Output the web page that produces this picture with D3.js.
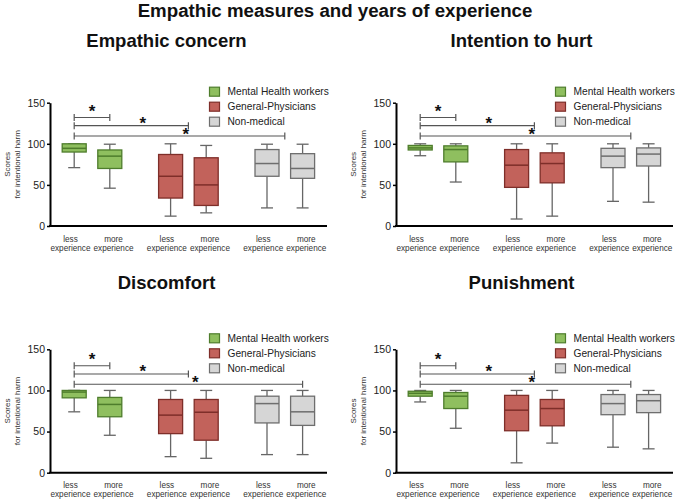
<!DOCTYPE html>
<html><head><meta charset="utf-8">
<script src="https://cdn.jsdelivr.net/npm/d3@7"></script>
<style>body{margin:0;background:#fff;font-family:"Liberation Sans",Arial,sans-serif}</style>
</head><body>
<script>
// ---------- data ----------
const mainTitle = "Empathic measures and years of experience";
const panelTitles = ["Empathic concern", "Intention to hurt", "Discomfort", "Punishment"];
const groups = ["Mental Health workers", "General-Physicians", "Non-medical"];
const experience = ["less", "more"];
const yTicks = [0, 50, 100, 150];
const yLabel = ["Scores", "for intentional harm"];
// each box: [min, q1, median, q3, max]; order: MH less, MH more, GP less, GP more, NM less, NM more
const empathicConcern = [[71,90,94.5,100,100],[46,70,85,92.5,99.5],[12,34,60.5,87,100],[16,25,50,83,98],[22,60.5,76,93,99.5],[22,58,70,88,99.5]];
const intentionToHurt = [[85.5,92.5,95,98,100],[53.5,78,93,97.5,100],[8.5,47,74,93,100],[12,52.5,76,89,100],[30,71,85,94.5,100],[29,73,87.5,95,100]];
const discomfort      = [[74,91,98,100,100],[45.5,68,83,91.5,100],[19.5,47.5,70,89,100],[17.5,39.5,73.5,89,100],[22,60.5,84,93,100],[22,57.5,74,93,100]];
const punishment      = [[86,93,96.5,99,100],[54,78,93,97.5,100],[12,51,76,94,100],[36,57,78,89,100],[31,70.5,84,95,100],[29,73,87.5,95,100]];
const panelData = [empathicConcern, intentionToHurt, discomfort, punishment];
// significance brackets: level (score units), right end [group index, 'less'|'more'|'mid'], all start at MH less
const sigLevels = [[132,122,109.5],[132,122,109.5],[130,120,107.5],[130,120,107.5]];
const sigEnds = [
  [[0,"more"],[1,"mid"],[2,"mid"]],
  [[0,"more"],[1,"mid"],[2,"mid"]],
  [[0,"more"],[1,"mid"],[2,"more"]],
  [[0,"more"],[1,"mid"],[2,"mid"]]
];
const sigLabel = "*";

// ---------- style ----------
const fills = ["#8fbf5f", "#c2625b", "#d6d6d6"];
const strokes = ["#4e7d2c", "#7e2e29", "#6e6e6e"];
const layout = [
  {x:50,  top:102.7, bottom:226,   tx:166.5, ty:46.5},
  {x:396, top:102.7, bottom:226,   tx:521.5, ty:46.5},
  {x:50,  top:349.3, bottom:472.7, tx:166.5, ty:288.5},
  {x:396, top:349.3, bottom:472.7, tx:521.5, ty:288.5}
];
const starT = [0.5, 0.6, 0.53];
const starOff = [9.5, 5.7, 5];

const svg = d3.select("body").append("svg").attr("width", 675).attr("height", 501);
svg.append("text").attr("x", 335).attr("y", 17).attr("text-anchor", "middle")
  .attr("font-size", 18.7).attr("font-weight", "bold").attr("fill", "#111").text(mainTitle);

panelData.forEach((boxes, p) => {
  const L = layout[p];
  const g = svg.append("g");
  const y = d3.scaleLinear().domain([0, 150]).range([L.bottom, L.top]);
  const xg = d3.scaleBand().domain(groups).range([L.x - 6.2, L.x + 283]);
  const xi = d3.scalePoint().domain(experience).range([0, xg.bandwidth()]).padding(0.854);
  const xl = d3.scalePoint().domain(experience).range([0, xg.bandwidth()]).padding(0.62);
  const cx = (gi, e) => e === "mid" ? xg(groups[gi]) + xg.bandwidth() / 2 : xg(groups[gi]) + xi(e);

  // title
  g.append("text").attr("x", L.tx).attr("y", L.ty).attr("text-anchor", "middle")
    .attr("font-size", 18.5).attr("font-weight", "bold").attr("fill", "#111").text(panelTitles[p]);

  // y axis
  const ya = g.append("g").attr("transform", `translate(${L.x},0)`)
    .call(d3.axisLeft(y).tickValues(yTicks).tickSize(3).tickSizeOuter(0).tickPadding(2));
  ya.select(".domain").attr("stroke", "#000").attr("stroke-width", 2);
  ya.selectAll(".tick line").attr("stroke", "#000").attr("stroke-width", 1.5);
  ya.selectAll(".tick text").attr("font-size", 10.5).attr("fill", "#222")
    .attr("font-family", '"Liberation Sans",Arial,sans-serif');

  // x axis line
  g.append("line").attr("x1", L.x - 1).attr("x2", L.x + 277).attr("y1", y(0)).attr("y2", y(0))
    .attr("stroke", "#000").attr("stroke-width", 2);

  // y label
  const ym = (L.top + L.bottom) / 2;
  [[yLabel[0], L.x - 40.5], [yLabel[1], L.x - 30.5]].forEach(([t, xx]) => {
    g.append("text").attr("transform", `translate(${xx},${ym}) rotate(-90)`)
      .attr("text-anchor", "middle").attr("font-size", 8).attr("fill", "#333").text(t);
  });

  // x labels
  groups.forEach((gr, gi) => experience.forEach(e => {
    const lx = xg(gr) + xl(e);
    const t = g.append("text").attr("text-anchor", "middle").attr("font-size", 8.2).attr("fill", "#333");
    t.append("tspan").attr("x", lx).attr("y", y(0) + 15.5).text(e);
    t.append("tspan").attr("x", lx).attr("y", y(0) + 24.5).text("experience");
  }));

  // boxes
  const bw = 24, cap = 12;
  boxes.forEach((b, i) => {
    const gi = Math.floor(i / 2), e = experience[i % 2];
    const c = cx(gi, e);
    const [mn, q1, md, q3, mx] = b;
    const wc = "#666";
    g.append("line").attr("x1", c).attr("x2", c).attr("y1", y(q3)).attr("y2", y(mx)).attr("stroke", wc).attr("stroke-width", 1.3);
    g.append("line").attr("x1", c).attr("x2", c).attr("y1", y(q1)).attr("y2", y(mn)).attr("stroke", wc).attr("stroke-width", 1.3);
    g.append("line").attr("x1", c - cap/2).attr("x2", c + cap/2).attr("y1", y(mx)).attr("y2", y(mx)).attr("stroke", wc).attr("stroke-width", 1.3);
    g.append("line").attr("x1", c - cap/2).attr("x2", c + cap/2).attr("y1", y(mn)).attr("y2", y(mn)).attr("stroke", wc).attr("stroke-width", 1.3);
    g.append("rect").attr("x", c - bw/2).attr("y", y(q3)).attr("width", bw).attr("height", Math.max(0.5, y(q1) - y(q3)))
      .attr("fill", fills[gi]).attr("stroke", strokes[gi]).attr("stroke-width", 1.3);
    g.append("line").attr("x1", c - bw/2).attr("x2", c + bw/2).attr("y1", y(md)).attr("y2", y(md))
      .attr("stroke", strokes[gi]).attr("stroke-width", 1.5);
  });

  // significance brackets
  const x0 = cx(0, "less");
  sigEnds[p].forEach((end, k) => {
    const x1 = cx(end[0], end[1]);
    const yy = y(sigLevels[p][k]);
    const sc = "#555";
    g.append("line").attr("x1", x0).attr("x2", x1).attr("y1", yy).attr("y2", yy).attr("stroke", sc).attr("stroke-width", 1.2);
    [x0, x1].forEach(xx => g.append("line").attr("x1", xx).attr("x2", xx).attr("y1", yy - 3.5).attr("y2", yy + 3.5)
      .attr("stroke", sc).attr("stroke-width", 1.2));
    const sx = x0 + starT[k] * (x1 - x0);
    g.append("text").attr("x", sx).attr("y", yy - starOff[k] + 9).attr("text-anchor", "middle")
      .attr("font-size", 17).attr("font-weight", "bold").attr("fill", "#111").text(sigLabel);
  });

  // legend
  groups.forEach((gr, k) => {
    const ly = y(150) - 11 + k * 15;
    g.append("rect").attr("x", L.x + 159.5).attr("y", ly - 4.5).attr("width", 10).attr("height", 9)
      .attr("fill", fills[k]).attr("stroke", strokes[k]).attr("stroke-width", 1.2);
    g.append("text").attr("x", L.x + 177.5).attr("y", ly + 3.7).attr("font-size", 10.2).attr("fill", "#222").text(gr);
  });
});
</script>
</body></html>
